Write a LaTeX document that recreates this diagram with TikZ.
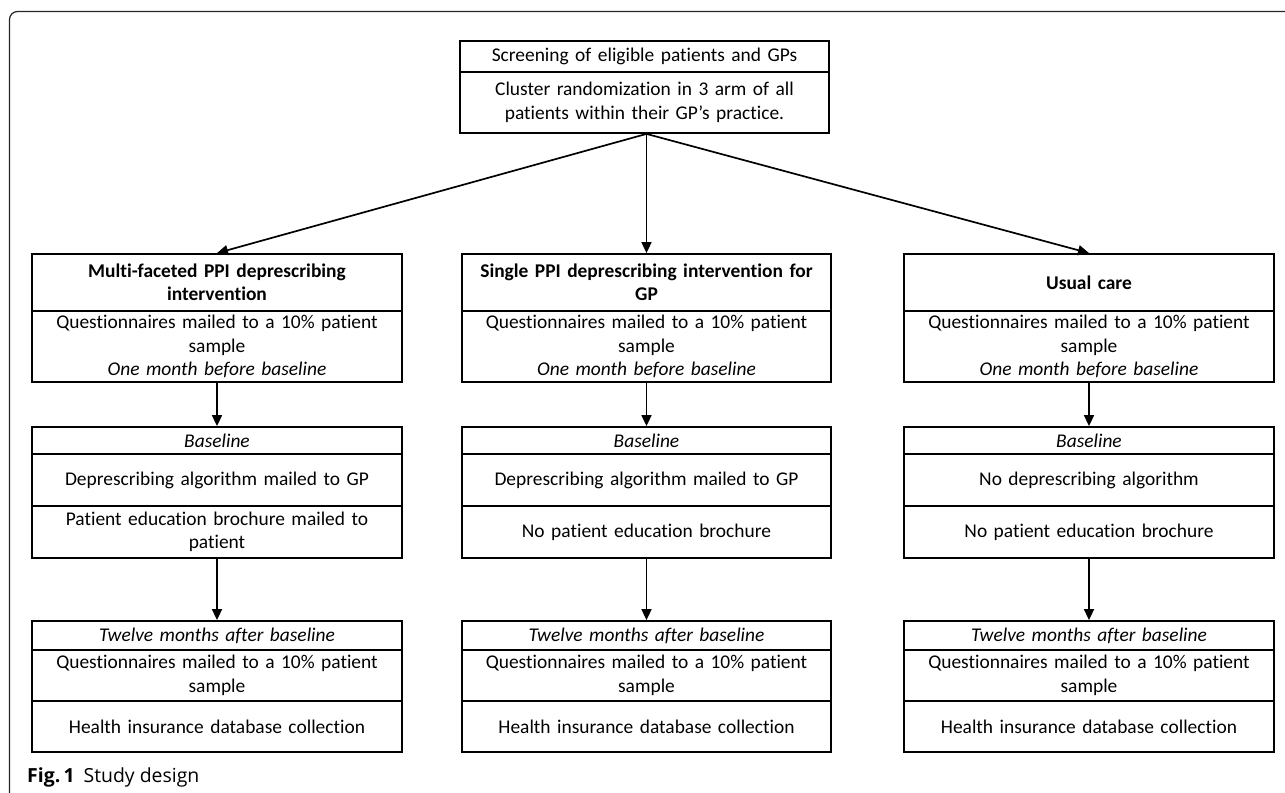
\documentclass[tikz,border=0pt]{standalone}
\usepackage{fontspec}
\setmainfont{Carlito}[Ligatures=NoCommon]
\newfontfamily\capfont{Open Sans}
\usetikzlibrary{arrows.meta}
\tikzset{
  cell/.style={draw, line width=1.8bp, inner sep=0pt, align=center, text width=360bp,
    font=\fontsize{19.5}{23.5}\selectfont},
  colL/.style={minimum width=370bp},
  colM/.style={minimum width=369bp},
  arr/.style={line width=1.7bp, -{Triangle[length=11bp,width=10bp]}},
  frame/.style={draw=black!85, line width=1.2bp, rounded corners=8bp}
}
\begin{document}
\begin{tikzpicture}[x=1bp,y=-1bp]
\useasboundingbox (0,0) rectangle (1285,793);
\draw[frame] (1290,11.5) -- (9.5,11.5) -- (9.5,800);
% top
\node[cell, colM, minimum height=31bp] (t1) at (644.5,56.5) {Screening of eligible patients and GPs};
\node[cell, colM, minimum height=61bp] (t2) at (644.5,102.5) {Cluster randomization in 3 arm of all\\patients within their GP’s practice.};
% left column
\node[cell, colL, minimum height=57bp] (l1) at (217,282.5) {\textbf{Multi-faceted PPI deprescribing}\\\textbf{intervention}};
\node[cell, colL, minimum height=71bp] (l2) at (217,346.5) {Questionnaires mailed to a 10\% patient\\sample\\\textit{One month before baseline}};
\node[cell, colL, minimum height=27bp] (l3) at (217,440.5) {\textit{Baseline}};
\node[cell, colL, minimum height=52bp] (l4) at (217,480) {Deprescribing algorithm mailed to GP};
\node[cell, colL, minimum height=52bp] (l5) at (217,532) {Patient education brochure mailed to\\patient};
\node[cell, colL, minimum height=29bp] (l6) at (217,635.5) {\textit{Twelve months after baseline}};
\node[cell, colL, minimum height=51bp] (l7) at (217,675.5) {Questionnaires mailed to a 10\% patient\\sample};
\node[cell, colL, minimum height=51bp] (l8) at (217,726.5) {Health insurance database collection};
% middle column
\node[cell, colM, minimum height=57bp] (m1) at (646.5,282.5) {\textbf{Single PPI deprescribing intervention for}\\\textbf{GP}};
\node[cell, colM, minimum height=71bp] (m2) at (646.5,346.5) {Questionnaires mailed to a 10\% patient\\sample\\\textit{One month before baseline}};
\node[cell, colM, minimum height=27bp] (m3) at (646.5,440.5) {\textit{Baseline}};
\node[cell, colM, minimum height=52bp] (m4) at (646.5,480) {Deprescribing algorithm mailed to GP};
\node[cell, colM, minimum height=52bp] (m5) at (646.5,532) {No patient education brochure};
\node[cell, colM, minimum height=29bp] (m6) at (646.5,635.5) {\textit{Twelve months after baseline}};
\node[cell, colM, minimum height=51bp] (m7) at (646.5,675.5) {Questionnaires mailed to a 10\% patient\\sample};
\node[cell, colM, minimum height=51bp] (m8) at (646.5,726.5) {Health insurance database collection};
% right column
\node[cell, colL, minimum height=57bp] (r1) at (1089,282.5) {\textbf{Usual care}};
\node[cell, colL, minimum height=71bp] (r2) at (1089,346.5) {Questionnaires mailed to a 10\% patient\\sample\\\textit{One month before baseline}};
\node[cell, colL, minimum height=27bp] (r3) at (1089,440.5) {\textit{Baseline}};
\node[cell, colL, minimum height=52bp] (r4) at (1089,480) {No deprescribing algorithm};
\node[cell, colL, minimum height=52bp] (r5) at (1089,532) {No patient education brochure};
\node[cell, colL, minimum height=29bp] (r6) at (1089,635.5) {\textit{Twelve months after baseline}};
\node[cell, colL, minimum height=51bp] (r7) at (1089,675.5) {Questionnaires mailed to a 10\% patient\\sample};
\node[cell, colL, minimum height=51bp] (r8) at (1089,726.5) {Health insurance database collection};
% arrows
\coordinate (src) at (m1.north |- t2.south);
\draw[arr] (src) -- (l1.north);
\draw[arr] (src) -- (m1.north);
\draw[arr] (src) -- (r1.north);
\draw[arr] (l2.south) -- (l3.north);
\draw[arr] (m2.south) -- (m3.north);
\draw[arr] (r2.south) -- (r3.north);
\draw[arr] (l5.south) -- (l6.north);
\draw[arr] (m5.south) -- (m6.north);
\draw[arr] (r5.south) -- (r6.north);
% caption
\node[anchor=base west, inner sep=0pt, font=\capfont\fontsize{19.5}{23}\selectfont] (cap) at (27,782) {\textbf{Fig.\,1}\hspace{9bp}Study design};
\end{tikzpicture}
\end{document}
